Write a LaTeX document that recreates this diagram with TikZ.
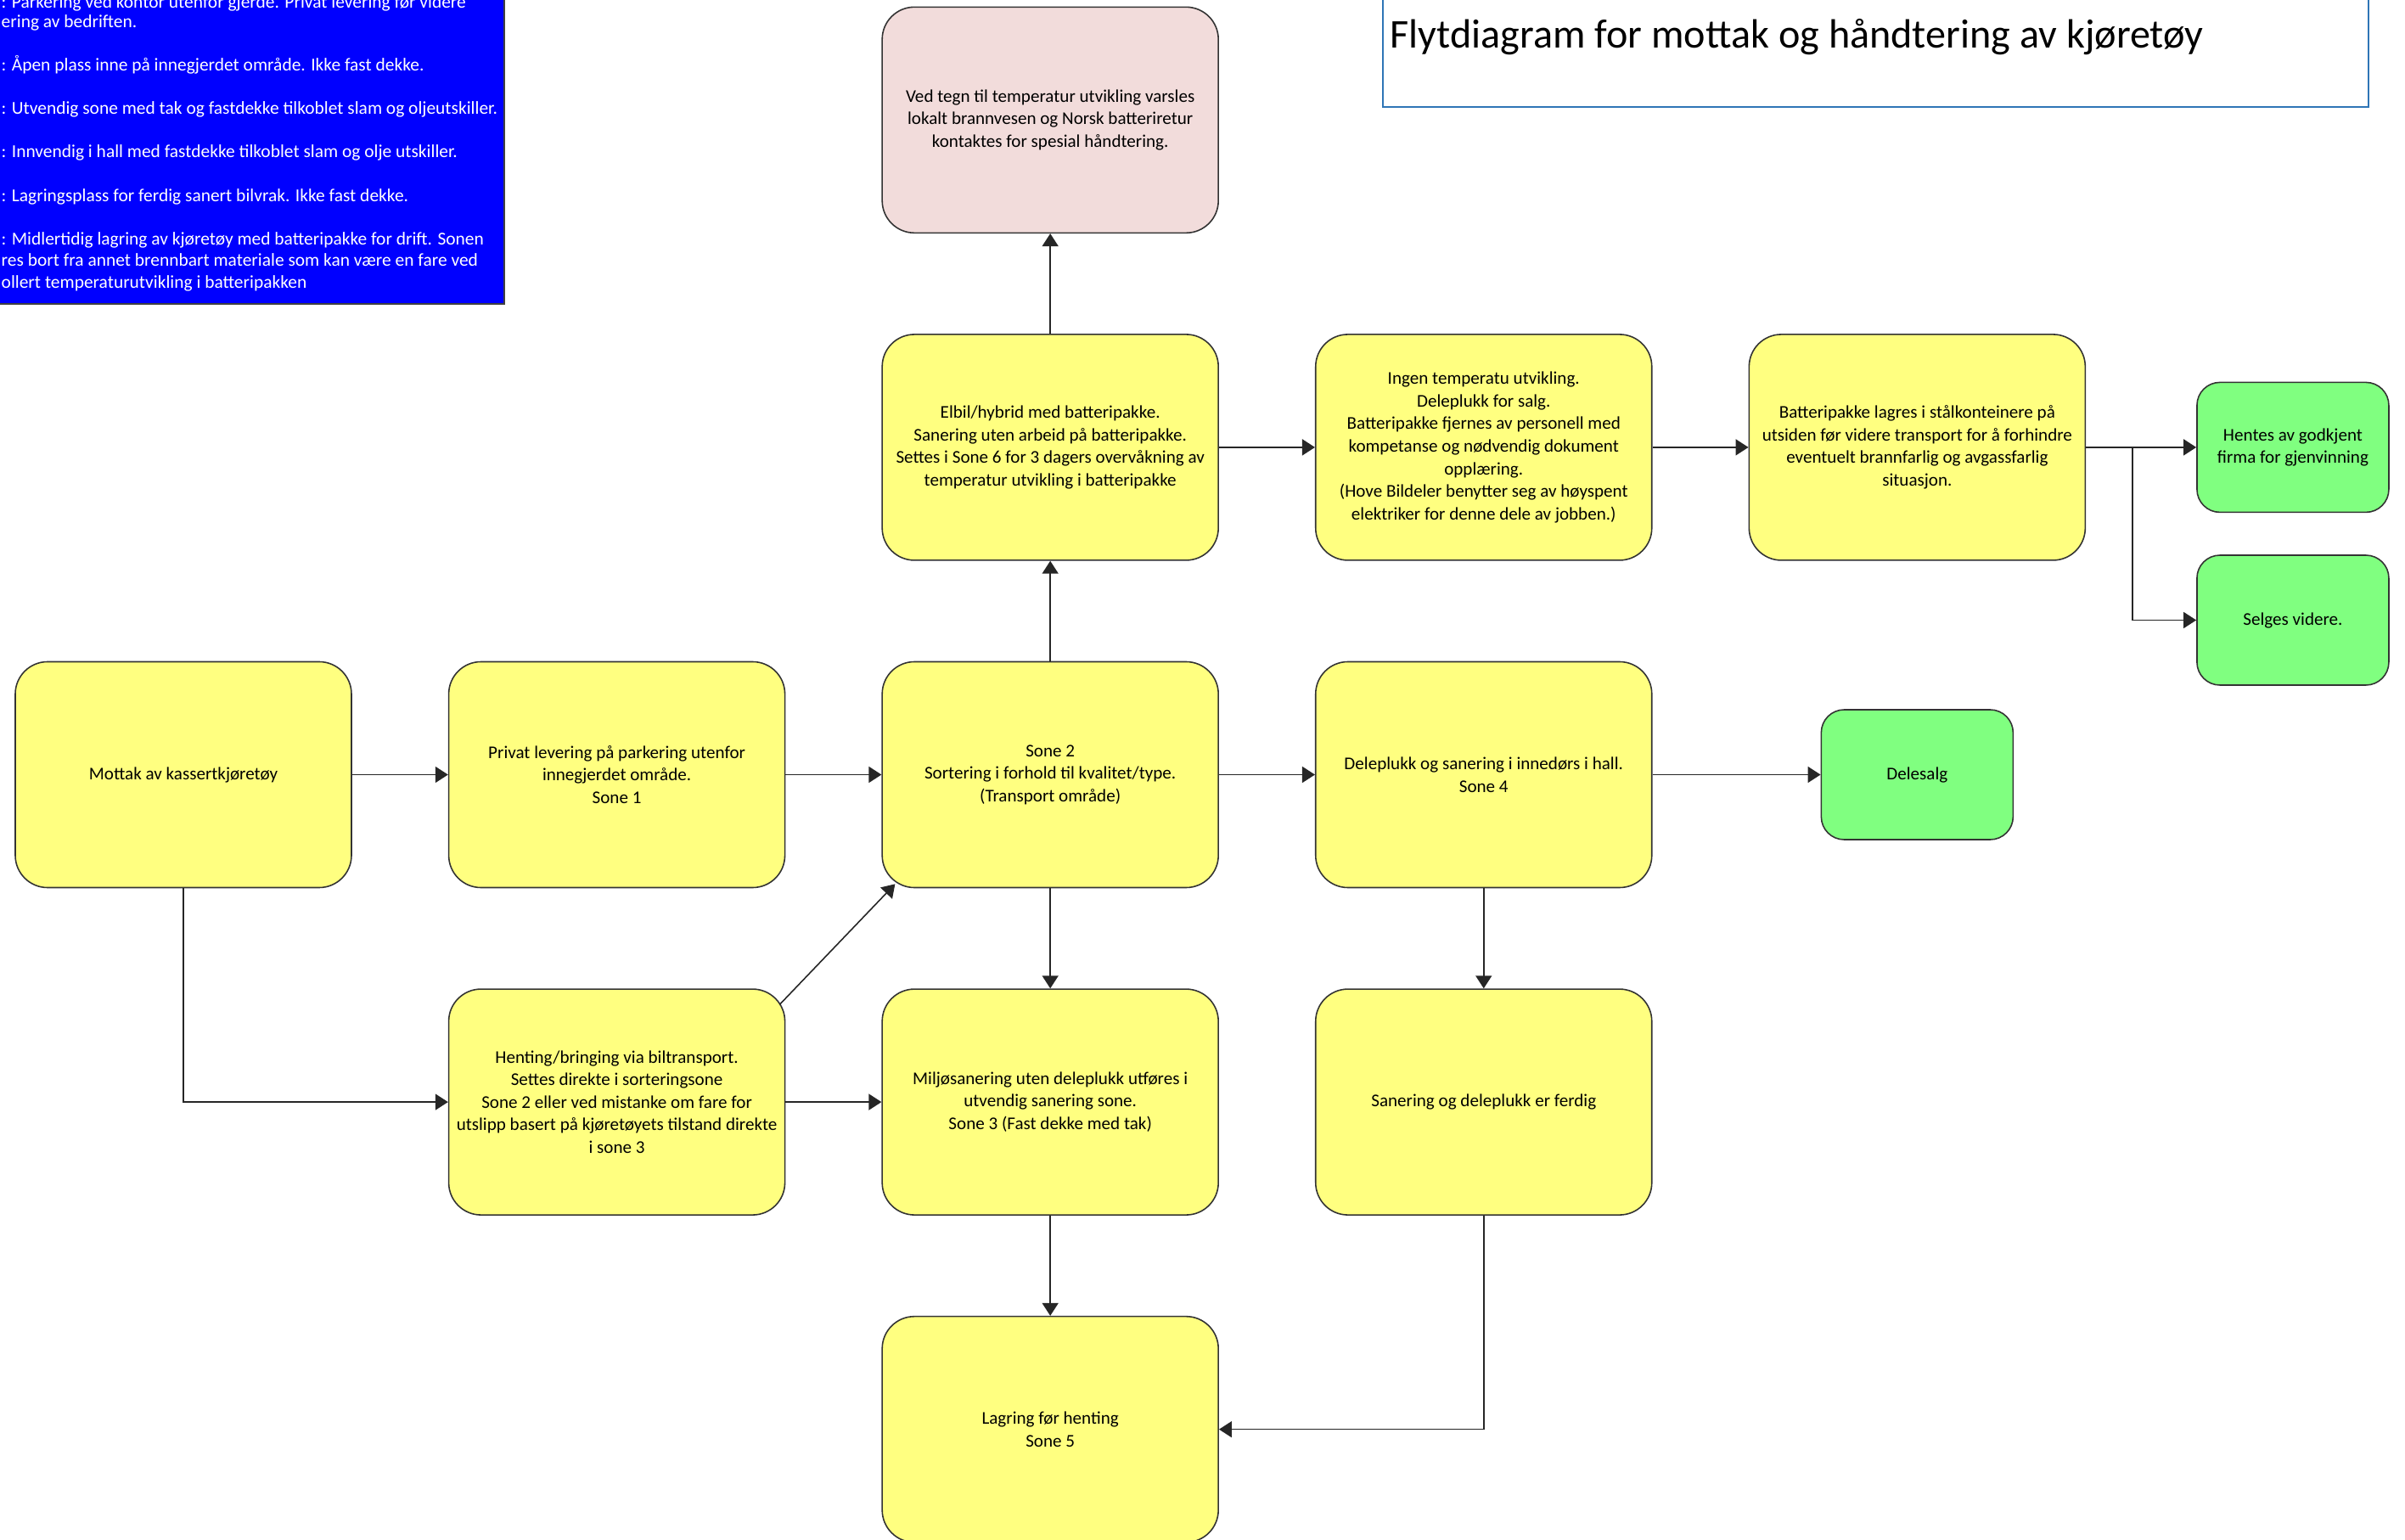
\documentclass[tikz,border=0pt]{standalone}
\usepackage{fontspec}
\setmainfont{Carlito}
\usetikzlibrary{positioning, calc, arrows.meta}
\definecolor{boxyellow}{RGB}{255,255,128}
\definecolor{boxgreen}{RGB}{128,255,128}
\definecolor{boxpink}{RGB}{242,220,219}
\definecolor{titleblue}{RGB}{46,117,182}

\begin{document}
\begin{tikzpicture}
  \tikzset{>={Triangle[length=1.5mm,width=1.9mm]}}
  \def\bw{3.96cm}
  \def\bh{2.66cm}
  \def\gapx{1.13cm}
  \def\gapy{1.18cm}
  \tikzset{
    box/.style={draw=black!80, fill=boxyellow, line width=0.45pt, rounded corners=0.38cm,
      minimum width=\bw, minimum height=\bh, align=center, inner sep=1pt,
      font=\fontsize{6}{7.57}\selectfont},
    endbox/.style={box, fill=boxgreen, rounded corners=0.27cm,
      minimum width=2.26cm, minimum height=1.53cm},
    legtext/.style={anchor=base west, inner sep=0pt, text=white,
      font=\fontsize{6.1}{7.3}\selectfont},
    flow/.style={->, draw=black!85, line width=0.45pt},
  }
  \useasboundingbox (0,0) rectangle (28.33,-18.14);
  \begin{scope}
  \clip (0,0) rectangle (28.33,-18.14);

  % sone-forklaring
  \fill[blue] (0,0) rectangle (5.94,-3.58);
  \draw[black!75, line width=0.6pt] (5.94,0) |- (0,-3.58);
  \foreach \yy/\txt [count=\i] in {
      0.10/{: Parkering ved kontor utenfor gjerde. Privat levering før videre},
      0.33/{ering av bedriften.},
      0.84/{: Åpen plass inne på innegjerdet område. Ikke fast dekke.},
      1.35/{: Utvendig sone med tak og fastdekke tilkoblet slam og oljeutskiller.},
      1.86/{: Innvendig i hall med fastdekke tilkoblet slam og olje utskiller.},
      2.38/{: Lagringsplass for ferdig sanert bilvrak. Ikke fast dekke.},
      2.89/{: Midlertidig lagring av kjøretøy med batteripakke for drift. Sonen},
      3.14/{res bort fra annet brennbart materiale som kan være en fare ved},
      3.40/{ollert temperaturutvikling i batteripakken}}
    \node[legtext] (leg\i) at (0.01,-\yy) {\txt};

  % tittel
  \draw[titleblue, line width=0.6pt] (16.29,0) |- (27.90,-1.26) -- (27.90,0);
  \node[anchor=base west, inner sep=0pt, font=\fontsize{13.7}{16}\selectfont]
    (tittel) at (16.37,-0.57) {Flytdiagram for mottak og håndtering av kjøretøy};

  % flyt
  \node[box] (mottak) at (2.16,-9.125) {Mottak av kassertkjøretøy};
  \node[box, right=\gapx of mottak] (privat)
    {Privat levering på parkering utenfor\\innegjerdet område.\\Sone 1};
  \node[box, right=\gapx of privat] (sortering)
    {Sone 2\\Sortering i forhold til kvalitet/type.\\(Transport område)};
  \node[box, right=\gapx of sortering] (deleplukk)
    {Deleplukk og sanering i innedørs i hall.\\Sone 4};
  \node[endbox, right=1.98cm of deleplukk] (delesalg) {Delesalg};
  \node[box, above=\gapy of sortering] (elbil)
    {Elbil/hybrid med batteripakke.\\Sanering uten arbeid på batteripakke.\\Settes i Sone 6 for 3 dagers overvåkning av\\temperatur utvikling i batteripakke};
  \node[box, fill=boxpink, above=\gapy of elbil] (varsel)
    {Ved tegn til temperatur utvikling varsles\\lokalt brannvesen og Norsk batteriretur\\kontaktes for spesial håndtering.};
  \node[box, right=\gapx of elbil] (ingen)
    {Ingen temperatu utvikling.\\Deleplukk for salg.\\Batteripakke fjernes av personell med\\kompetanse og nødvendig dokument\\opplæring.\\(Hove Bildeler benytter seg av høyspent\\elektriker for denne dele av jobben.)};
  \node[box, right=\gapx of ingen] (lagres)
    {Batteripakke lagres i stålkonteinere på\\utsiden før videre transport for å forhindre\\eventuelt brannfarlig og avgassfarlig\\situasjon.};
  \node[endbox, right=1.30cm of lagres] (hentes) {Hentes av godkjent\\firma for gjenvinning};
  \node[endbox, below=0.49cm of hentes] (selges) {Selges videre.};
  \node[box, below=\gapy of privat] (henting)
    {Henting/bringing via biltransport.\\Settes direkte i sorteringsone\\Sone 2 eller ved mistanke om fare for\\utslipp basert på kjøretøyets tilstand direkte\\i sone 3};
  \node[box, below=\gapy of sortering] (miljo)
    {Miljøsanering uten deleplukk utføres i\\utvendig sanering sone.\\Sone 3 (Fast dekke med tak)};
  \node[box, below=\gapy of deleplukk] (ferdig) {Sanering og deleplukk er ferdig};
  \node[box, below=\gapy of miljo] (lagring) {Lagring før henting\\Sone 5};

  \coordinate (split) at ($(lagres.east)+(0.55,0)$);

  \draw[flow] (mottak.east) -- (privat.west);
  \draw[flow] (privat.east) -- (sortering.west);
  \draw[flow] (sortering.north) -- (elbil.south);
  \draw[flow] (elbil.north) -- (varsel.south);
  \draw[flow] (elbil.east) -- (ingen.west);
  \draw[flow] (ingen.east) -- (lagres.west);
  \draw[flow] (lagres.east) -- (hentes.west);
  \draw[flow] (split) |- (selges.west);
  \draw[flow] (sortering.east) -- (deleplukk.west);
  \draw[flow] (deleplukk.east) -- (delesalg.west);
  \draw[flow] (deleplukk.south) -- (ferdig.north);
  \draw[flow] (sortering.south) -- (miljo.north);
  \draw[flow] (mottak.south) |- (henting.west);
  \draw[flow] (henting.east) -- (miljo.west);
  \draw[flow] ($(henting.north east)+(-0.07,-0.19)$) -- ($(sortering.south west)+(0.16,0.05)$);
  \draw[flow] (miljo.south) -- (lagring.north);
  \draw[flow] (ferdig.south) |- (lagring.east);
  \end{scope}
\end{tikzpicture}
\end{document}
